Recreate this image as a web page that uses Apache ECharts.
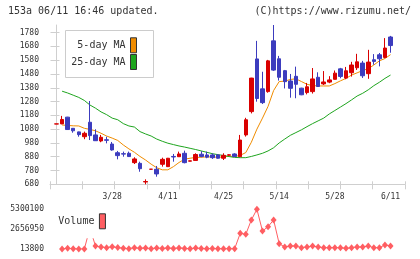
<!DOCTYPE html>
<html><head><meta charset="utf-8">
<script src="https://cdn.jsdelivr.net/npm/echarts@6/dist/echarts.min.js"></script>
<style>html,body{margin:0;padding:0;background:#fff}#c{width:420px;height:259px}</style>
</head><body><div id="c"></div>
<script>
const dates = ['3/13','3/14','3/15','3/18','3/19','3/21','3/22','3/25','3/26','3/27','3/28',
  '3/29','4/1','4/2','4/3','4/4','4/5','4/8','4/9','4/10','4/11',
  '4/12','4/15','4/16','4/17','4/18','4/19','4/22','4/23','4/24','4/25',
  '4/26','4/30','5/1','5/2','5/7','5/8','5/9','5/10','5/13','5/14',
  '5/15','5/16','5/17','5/20','5/21','5/22','5/23','5/24','5/27','5/28',
  '5/29','5/30','5/31','6/3','6/4','6/5','6/6','6/7','6/10','6/11'];
const openP = [1117,1118,1167,1086,1060,1025,1130,1038,994,1003,972,909,902,905,837,832,697,789,789,825,808,882,880,905,848,853,898,893,893,893,869,891,900,880,1038,1207,1589,1372,1352,1720,1590,1504,1429,1463,1377,1345,1352,1456,1408,1421,1441,1517,1450,1489,1525,1559,1482,1583,1619,1600,1748];
const closeP = [1118,1150,1077,1068,1040,1050,1033,996,1021,999,929,888,899,881,864,793,700,790,755,861,869,878,900,837,850,896,881,877,873,869,890,894,881,1001,1148,1450,1302,1272,1575,1508,1456,1424,1376,1405,1329,1387,1444,1389,1422,1437,1486,1462,1503,1545,1568,1467,1566,1571,1590,1668,1686];
const lowP = [1117,1116,1075,1054,1025,1007,1001,994,985,977,924,861,880,879,827,771,680,787,735,808,806,844,878,832,847,851,876,869,864,866,856,888,878,878,1026,1194,1279,1262,1344,1502,1432,1375,1308,1304,1326,1332,1338,1386,1400,1413,1440,1449,1442,1461,1509,1451,1445,1547,1535,1594,1634];
const highP = [1118,1176,1169,1088,1062,1062,1284,1079,1038,1025,987,922,917,917,876,844,716,791,813,873,871,900,917,924,851,905,920,917,905,898,905,898,905,1038,1162,1452,1720,1496,1582,1835,1611,1509,1480,1533,1380,1415,1523,1492,1501,1464,1505,1524,1531,1568,1626,1575,1655,1624,1632,1740,1756];
const ma5 = [null,1110,1107,1104,1103,1086,1078,1068,1050,1030,1015,998,965,937,912,882,856,826,800,785,785,808,838,862,869,875,876,879,878,876,879,884,881,890,910,985,1080,1160,1245,1360,1425,1428,1440,1445,1425,1405,1396,1393,1393,1393,1410,1430,1448,1472,1488,1505,1518,1545,1575,1592,1620];
const ma25 = [null,1355,1342,1326,1310,1288,1255,1232,1205,1185,1160,1148,1120,1103,1095,1062,1045,1030,1008,992,978,968,958,950,941,932,922,912,902,895,889,881,875,873,873,882,893,905,922,945,980,1008,1035,1055,1075,1098,1120,1140,1160,1190,1215,1240,1265,1292,1320,1340,1365,1395,1420,1448,1472];
// volume starts at the second date (dates[1])
const volume = [30000,100000,40000,13800,20000,2800000,413000,280000,190000,300000,200000,110000,60000,190000,110000,150000,60000,150000,80000,150000,70000,150000,90000,60000,140000,70000,60000,80000,50000,60000,40000,50000,2100000,1970000,3880000,5300100,2410000,2990000,3880000,720000,280000,413000,413000,191000,280000,413000,280000,191000,191000,191000,191000,103000,191000,280000,280000,413000,191000,191000,546000,413000];
const priceTicks = [680,780,880,980,1080,1180,1280,1380,1480,1580,1680,1780];
const dateTicks = ['3/28','4/11','4/25','5/14','5/28','6/11'];

const MONO = '"DejaVu Sans Mono", monospace';
const AX = '#cfcfcf';
const XMIN = -1.17, XMAX = 62.6;
const xTickPos = [];
for (let k = 0; k <= 11; k++) xTickPos.push(XMIN + k * (XMAX - XMIN) / 11);
const xLabelPos = dateTicks.map(d => dates.indexOf(d));
const vMin = Math.min(...volume), vMax = Math.max(...volume);
const volTicks = [vMin, (vMin + vMax) / 2, vMax];
const plain = v => String(Math.round(v));

const candles = dates.map((d, i) => [i, openP[i], closeP[i], lowP[i], highP[i]]);
const toLine = arr => arr.map((v, i) => [i, v]).filter(p => p[1] != null);
const volData = volume.map((v, j) => [j + 1, v]);

const chart = echarts.init(document.getElementById('c'));
chart.setOption({
  animation: false,
  backgroundColor: '#fff',
  grid: [
    {left: 50, right: 15, top: 25, bottom: 74.7},
    {left: 50, right: 15, top: 209.3, bottom: 10}
  ],
  xAxis: [
    {gridIndex: 0, type: 'value', min: XMIN, max: XMAX, position: 'bottom',
     axisLine: {show: true, lineStyle: {color: AX}},
     axisTick: {show: true, customValues: xTickPos, length: 5, lineStyle: {color: AX}},
     axisLabel: {customValues: xLabelPos, formatter: v => dates[Math.round(v)], fontSize: 8, fontFamily: MONO, color: '#333', margin: 9},
     splitLine: {show: false}},
    {gridIndex: 0, type: 'value', min: XMIN, max: XMAX, position: 'bottom',
     axisLine: {show: false},
     axisTick: {show: true, inside: true, customValues: xTickPos, length: 3, lineStyle: {color: AX}},
     axisLabel: {show: false}, splitLine: {show: false}},
    {gridIndex: 1, type: 'value', min: XMIN, max: XMAX, show: false}
  ],
  yAxis: [
    {gridIndex: 0, type: 'value', min: Math.min(...lowP), max: Math.max(...highP), position: 'left',
     axisLine: {show: true, lineStyle: {color: AX}},
     axisTick: {show: true, customValues: priceTicks, length: 6, lineStyle: {color: AX}},
     axisLabel: {customValues: priceTicks, formatter: plain, fontSize: 8, fontFamily: MONO, color: '#333', margin: 11},
     splitLine: {show: false}},
    {gridIndex: 0, type: 'value', min: Math.min(...lowP), max: Math.max(...highP), position: 'left',
     axisLine: {show: false},
     axisTick: {show: true, inside: true, customValues: priceTicks, length: 3, lineStyle: {color: AX}},
     axisLabel: {show: false}, splitLine: {show: false}},
    {gridIndex: 1, type: 'value', min: vMin, max: vMax,
     axisLine: {show: false}, axisTick: {show: false},
     axisLabel: {customValues: volTicks, formatter: plain, fontSize: 8, fontFamily: MONO, color: '#333', margin: 6},
     splitLine: {show: false}}
  ],
  legend: [
    {data: [{name: '5-day MA', icon: 'rect'}], right: 283, top: 37.3, orient: 'vertical', align: 'right',
     itemWidth: 6, itemHeight: 15, padding: 0, selectedMode: false,
     itemStyle: {borderColor: '#333', borderWidth: 1},
     textStyle: {fontSize: 10, fontFamily: MONO, color: '#333'}},
    {data: [{name: '25-day MA', icon: 'rect'}], right: 283, top: 54, orient: 'vertical', align: 'right',
     itemWidth: 6, itemHeight: 15, padding: 0, selectedMode: false,
     itemStyle: {borderColor: '#333', borderWidth: 1},
     textStyle: {fontSize: 10, fontFamily: MONO, color: '#333'}},
    {data: [{name: 'Volume', icon: 'rect'}], left: 53.3, top: 205.3, orient: 'vertical', align: 'right',
     itemWidth: 6, itemHeight: 15, padding: [8, 5, 9, 5], backgroundColor: '#fff', selectedMode: false,
     itemStyle: {borderColor: '#333', borderWidth: 1},
     textStyle: {fontSize: 10, fontFamily: MONO, color: '#333'}}
  ],
  graphic: [
    {type: 'rect', shape: {x: 65.5, y: 30.5, width: 88, height: 47}, style: {fill: '#fff', stroke: '#cccccc', lineWidth: 1}, z: 3},
    {type: 'text', x: 8, y: 6.5, style: {text: '153a 06/11 16:46 updated.', font: '10px ' + MONO, fill: '#333', align: 'left', verticalAlign: 'top'}},
    {type: 'text', x: 411, y: 6.5, style: {text: '(C)https://www.rizumu.net/', font: '10px ' + MONO, fill: '#333', align: 'right', verticalAlign: 'top'}}
  ],
  series: [
    {name: '5-day MA', type: 'line', xAxisIndex: 0, yAxisIndex: 0, data: toLine(ma5), color: '#f08c00',
     showSymbol: false, symbol: 'none', lineStyle: {width: 1, color: '#f08c00'}, z: 2},
    {name: '25-day MA', type: 'line', xAxisIndex: 0, yAxisIndex: 0, data: toLine(ma25), color: '#1ea51e',
     showSymbol: false, symbol: 'none', lineStyle: {width: 1, color: '#1ea51e'}, z: 2},
    {name: 'Price', type: 'candlestick', xAxisIndex: 0, yAxisIndex: 0, data: candles,
     encode: {x: 0, y: [1, 2, 3, 4]}, barWidth: 4, z: 3,
     itemStyle: {color: '#d90000', color0: '#3c3cbe', borderColor: '#d90000', borderColor0: '#3c3cbe', borderWidth: 1}},
    {name: 'Volume', type: 'line', xAxisIndex: 2, yAxisIndex: 2, data: volData, color: '#ff5e62',
     symbol: 'diamond', symbolSize: [6, 7], showSymbol: true,
     itemStyle: {color: '#ff5e62'}, lineStyle: {width: 1, color: '#ff5e62'}, z: 2}
  ]
});
</script></body></html>
